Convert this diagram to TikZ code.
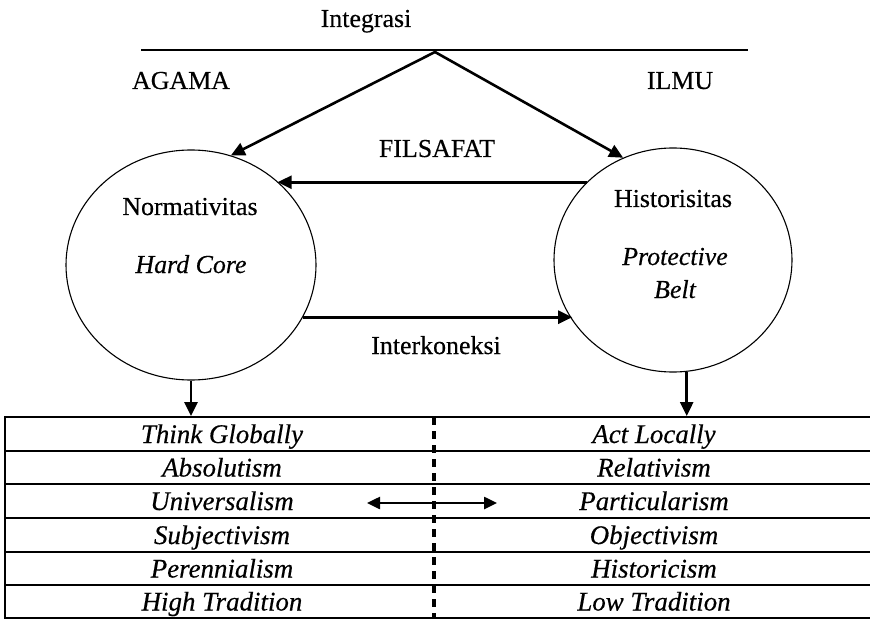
\documentclass[tikz,border=0pt]{standalone}
\usepackage{fontspec}
\setmainfont{Liberation Serif}[FakeBold=0.4]
\usetikzlibrary{shapes.geometric,arrows.meta}

\begin{document}
\begin{tikzpicture}[x=1bp,y=-1bp,
  txt/.style={font=\fontsize{26}{30}\selectfont, inner sep=0pt, anchor=base},
  itxt/.style={font=\fontsize{26}{30}\selectfont\itshape, inner sep=0pt, anchor=base},
  cell/.style={font=\fontsize{27}{30}\selectfont\itshape, inner sep=0pt, anchor=base},
  oval/.style={ellipse, draw, line width=1.1bp, inner sep=0pt},
  arr/.style={line width=2.6bp, -{Triangle[length=14bp,width=13bp]}},
  rowbox/.style={draw, line width=2bp, minimum width=870bp, inner sep=0pt},
  divider/.style={line width=4bp, dash pattern=on 8bp off 6bp}
]
\useasboundingbox (0,0) rectangle (870,620);

% headline and the rule under it
\node[txt] (integ) at (366,27) {Integrasi};
\coordinate (ruleL) at (141,50);
\coordinate (ruleR) at (748,50);
\draw[line width=1.1bp] (ruleL) -- (ruleR);
\coordinate (apex) at (435,52);

\node[txt] (agamaT) at (181,89) {AGAMA};
\node[txt] (ilmuT) at (680,89) {ILMU};
\node[txt] (filsafat) at (437,157) {FILSAFAT};
\node[txt] (interk) at (436,354) {Interkoneksi};

% the two circles
\node[oval, minimum width=250bp, minimum height=230bp] (agama) at (191,265) {};
\node[oval, minimum width=238bp, minimum height=224bp] (ilmu) at (673,260) {};

\node[txt] (norm) at (190,215) {Normativitas};
\node[itxt] (hard) at (191,273) {Hard Core};
\node[txt] (hist) at (673,207) {Historisitas};
\node[itxt] (prot) at (675,265) {Protective};
\node[itxt] (belt) at (675,298) {Belt};

% arrows between the circles
\draw[line width=2.6bp, {Triangle[length=14bp,width=13bp]}-{Triangle[length=14bp,width=13bp]}, line join=miter]
  (agama.70) -- (apex) -- (ilmu.116);
\draw[arr] (ilmu.138) -- (ilmu.138 -| agama.44);
\draw[arr] (agama.-25) -- (agama.-25 -| ilmu.211);

% table rows, each one a full-width box
\node[rowbox, minimum height=34bp] (row1) at (440,434) {};
\node[rowbox, minimum height=33bp] (row2) at (440,467.5) {};
\node[rowbox, minimum height=34bp] (row3) at (440,501) {};
\node[rowbox, minimum height=34bp] (row4) at (440,535) {};
\node[rowbox, minimum height=33bp] (row5) at (440,568.5) {};
\node[rowbox, minimum height=33bp] (row6) at (440,601.5) {};

\draw[arr] (agama.south) -- (agama.south |- row1.north);
\draw[arr] (ilmu.-83) -- (ilmu.-83 |- row1.north);

\coordinate (divtop) at (434,417);
\coordinate (divbot) at (434,618);
\draw[divider] (divtop) -- (divbot);

\coordinate (dl) at (367,503);
\coordinate (dr) at (497,503);
\draw[line width=2.5bp, {Triangle[length=13bp,width=12bp]}-{Triangle[length=13bp,width=12bp]}] (dl) -- (dr);

\node[cell] (l1) at (222,443) {Think Globally};
\node[cell] (l2) at (222,476.5) {Absolutism};
\node[cell] (l3) at (222,510) {Universalism};
\node[cell] (l4) at (222,544) {Subjectivism};
\node[cell] (l5) at (222,577.5) {Perennialism};
\node[cell] (l6) at (222,610.5) {High Tradition};

\node[cell] (r1) at (654,443) {Act Locally};
\node[cell] (r2) at (654,476.5) {Relativism};
\node[cell] (r3) at (654,510) {Particularism};
\node[cell] (r4) at (654,544) {Objectivism};
\node[cell] (r5) at (654,577.5) {Historicism};
\node[cell] (r6) at (654,610.5) {Low Tradition};
\end{tikzpicture}
\end{document}
